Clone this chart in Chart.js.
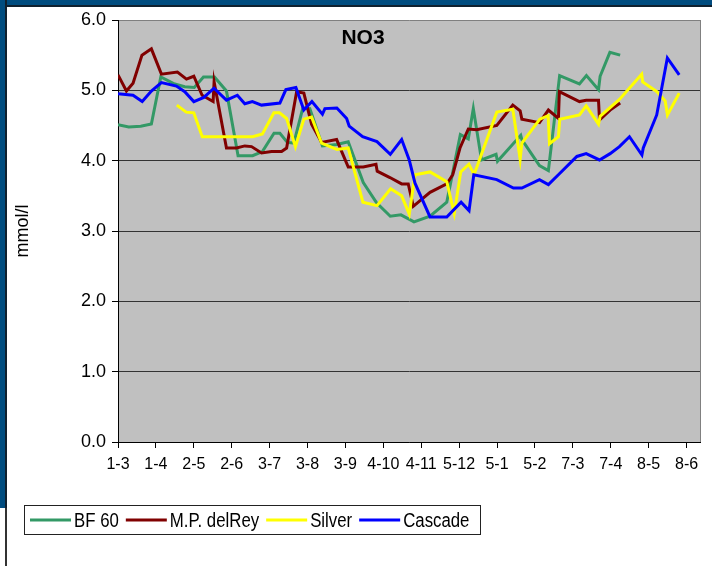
<!DOCTYPE html>
<html>
<head>
<meta charset="utf-8">
<script src="https://cdn.jsdelivr.net/npm/chart.js@4.4.1/dist/chart.umd.min.js"></script>
<style>
    html, body { margin: 0; padding: 0; background: #fff; }
    #wrap { position: relative; width: 712px; height: 566px; overflow: hidden; }
    .frame { position: absolute; background: #004c7f; }
    canvas { position: absolute; left: 0; top: 0; }
</style>
</head>
<body>
<div id="wrap">
    <div class="frame" style="left:0;top:0;width:712px;height:5px;border-bottom:2px solid #10202e"></div>
    <div class="frame" style="left:0;top:0;width:5px;height:508px;border-right:2px solid #10202e"></div>
    <div style="position:absolute;left:5px;top:508px;width:2px;height:58px;background:#333"></div>
    <canvas id="chart" width="712" height="566"></canvas>
</div>
<script>
// tick labels (day-month), one every 31 days starting 1 March
var tickLabels = ["1-3", "1-4", "2-5", "2-6", "3-7", "3-8", "3-9", "4-10", "4-11",
    "5-12", "5-1", "5-2", "7-3", "7-4", "8-5", "8-6"];
var tickStep = 31;
var dayMax = 476;

var seriesNames = ["BF 60", "M.P. delRey", "Silver", "Cascade"];
var seriesColors = ["#339966", "#800000", "#ffff00", "#0000ff"];

// days since 1-3, NO3 in mmol/l
var bf60Days = [0, 8.8, 18.6, 27.3, 35.0, 46.4, 54.6, 62.4, 69.9, 78.9, 88.7, 98.2, 110.1,
    118.1, 127.6, 132.4, 138.5, 143.8, 151.2, 156.9, 167.2, 179.0, 188.3, 200.6, 211.5,
    222.7, 231.4, 242.1, 255.2, 268.9, 280.0, 286.5, 290.6, 297.3, 309.2, 310.4, 329.4,
    330.3, 344.7, 352.0, 361.2, 377.4, 383.1, 393.0, 394.3, 402.3, 410.7];
var bf60Values = [4.51, 4.48, 4.49, 4.52, 5.19, 5.09, 5.05, 5.04, 5.19, 5.19, 4.99, 4.07, 4.07,
    4.13, 4.39, 4.39, 4.26, 4.25, 4.75, 4.74, 4.21, 4.23, 4.27, 3.69, 3.40,
    3.21, 3.23, 3.13, 3.21, 3.41, 4.37, 4.31, 4.74, 4.01, 4.09, 3.99, 4.36,
    4.30, 3.93, 3.86, 5.21, 5.09, 5.21, 5.01, 5.20, 5.54, 5.50];

var delReyDays = [0, 6.9, 12.3, 19.6, 27.3, 35.5, 48.6, 56.0, 62.0, 68.8, 77.8, 78.6, 88.7,
    96.9, 103.7, 109.2, 117.4, 125.6, 133.8, 137.9, 146.1, 152.0, 158.3, 166.5, 178.8,
    188.3, 200.6, 211.0, 212.0, 222.4, 232.0, 237.4, 241.5, 255.2, 268.9, 273.8, 279.7,
    286.5, 293.4, 309.8, 322.9, 328.9, 330.3, 344.7, 352.0, 360.2, 361.0, 377.4, 382.9,
    393.0, 393.8, 402.5, 410.7];
var delReyValues = [5.22, 4.99, 5.10, 5.50, 5.59, 5.23, 5.26, 5.16, 5.20, 4.93, 4.84, 5.12, 4.18,
    4.18, 4.21, 4.20, 4.11, 4.13, 4.13, 4.18, 4.98, 4.96, 4.52, 4.26, 4.30,
    3.91, 3.91, 3.95, 3.85, 3.76, 3.67, 3.67, 3.35, 3.55, 3.67, 3.80, 4.18,
    4.45, 4.44, 4.50, 4.79, 4.71, 4.59, 4.54, 4.72, 4.60, 4.98, 4.84, 4.86,
    4.86, 4.58, 4.72, 4.82];

var silverDays = [48.1, 55.8, 62.0, 68.9, 110.1, 118.1, 127.5, 132.1, 137.9, 145.1, 152.0,
    158.3, 166.5, 179.0, 188.3, 200.3, 211.8, 223.0, 232.0, 238.2, 242.9, 255.2, 268.9,
    275.0, 280.3, 287.0, 291.2, 309.8, 322.9, 328.9, 330.3, 345.0, 351.8, 352.9, 360.2,
    361.3, 377.4, 382.9, 393.0, 394.3, 410.1, 428.3, 429.1, 440.8, 447.5, 449.4, 459.0];
var silverValues = [4.79, 4.69, 4.68, 4.34, 4.34, 4.38, 4.68, 4.68, 4.60, 4.20, 4.59,
    4.62, 4.25, 4.16, 4.18, 3.41, 3.36, 3.60, 3.50, 3.24, 3.80, 3.84, 3.70,
    3.25, 3.84, 3.95, 3.80, 4.69, 4.73, 4.02, 4.25, 4.59, 4.64, 4.24, 4.34,
    4.59, 4.65, 4.78, 4.52, 4.63, 4.87, 5.23, 5.12, 4.98, 4.85, 4.65, 4.96];

var cascadeDays = [0, 12.3, 19.8, 27.3, 35.5, 47.8, 54.6, 62.0, 70.2, 78.5, 88.7, 97.6, 103.7,
    109.9, 117.4, 132.4, 137.3, 145.5, 152.0, 158.6, 167.2, 169.2, 179.0, 187.0, 189.1,
    200.1, 211.8, 222.7, 232.0, 238.2, 242.9, 255.2, 268.9, 280.6, 287.1, 291.0, 309.8,
    323.4, 330.3, 344.7, 352.0, 360.8, 375.3, 382.9, 393.8, 402.5, 410.1, 418.3, 428.5,
    429.6, 440.6, 449.3, 459.0];
var cascadeValues = [4.95, 4.93, 4.84, 4.99, 5.11, 5.06, 4.98, 4.84, 4.90, 5.03, 4.86, 4.93, 4.81,
    4.84, 4.79, 4.82, 5.01, 5.04, 4.72, 4.84, 4.66, 4.74, 4.75, 4.60, 4.49,
    4.34, 4.27, 4.09, 4.30, 4.01, 3.68, 3.20, 3.20, 3.41, 3.29, 3.80, 3.73,
    3.61, 3.61, 3.73, 3.66, 3.81, 4.06, 4.10, 4.01, 4.10, 4.20, 4.34, 4.08,
    4.18, 4.65, 5.46, 5.22];

var seriesDays = [bf60Days, delReyDays, silverDays, cascadeDays];
var seriesValues = [bf60Values, delReyValues, silverValues, cascadeValues];

var plainFont = "'Liberation Sans', Arial, sans-serif";

// gray plot background and gray right border
var plotBackground = {
    id: "plotBackground",
    beforeDraw: function (chart) {
        var a = chart.chartArea, ctx = chart.ctx;
        ctx.save();
        ctx.fillStyle = "#c0c0c0";
        ctx.fillRect(a.left, a.top, a.right - a.left, a.bottom - a.top);
        ctx.restore();
    },
    afterDraw: function (chart) {
        var a = chart.chartArea, ctx = chart.ctx;
        ctx.save();
        ctx.strokeStyle = "#808080";
        ctx.lineWidth = 1;
        ctx.beginPath();
        ctx.moveTo(a.right + 0.5, a.top);
        ctx.lineTo(a.right + 0.5, a.bottom);
        ctx.stroke();
        ctx.restore();
    }
};

// title inside the plot and an Excel style legend box
var extras = {
    id: "extras",
    afterDraw: function (chart) {
        var ctx = chart.ctx;
        ctx.save();
        ctx.fillStyle = "#000";
        ctx.font = "bold 21px " + plainFont;
        ctx.textAlign = "center";
        ctx.textBaseline = "middle";
        ctx.fillText("NO3", 363, 38);

        ctx.strokeStyle = "#222";
        ctx.lineWidth = 1;
        ctx.strokeRect(24.5, 505.5, 456, 29);

        // legend text is a condensed face, so squeeze it a little
        ctx.font = "20px " + plainFont;
        ctx.textAlign = "left";
        var squeeze = 0.84;
        var x = 30, y = 520;
        for (var i = 0; i < seriesNames.length; i++) {
            ctx.strokeStyle = seriesColors[i];
            ctx.lineWidth = 3;
            ctx.beginPath();
            ctx.moveTo(x, y);
            ctx.lineTo(x + 41, y);
            ctx.stroke();
            ctx.save();
            ctx.translate(x + 44, y + 1);
            ctx.scale(squeeze, 1);
            ctx.fillStyle = "#000";
            ctx.fillText(seriesNames[i], 0, 0);
            ctx.restore();
            x += 44 + ctx.measureText(seriesNames[i]).width * squeeze + 7;
        }
        ctx.restore();
    }
};

var datasets = seriesNames.map(function (name, s) {
    return {
        label: name,
        data: seriesDays[s].map(function (d, i) { return { x: d, y: seriesValues[s][i] }; }),
        borderColor: seriesColors[s],
        backgroundColor: seriesColors[s],
        borderWidth: 3,
        pointRadius: 0,
        tension: 0,
        fill: false,
        order: seriesNames.length - s
    };
});

var ctx = document.getElementById("chart").getContext("2d");
var myChart = new Chart(ctx, {
    type: "line",
    data: { datasets: datasets },
    options: {
        responsive: false,
        animation: false,
        devicePixelRatio: 1,
        layout: { padding: { left: 8, top: 20, right: 12, bottom: 0 } },
        plugins: {
            legend: { display: false },
            tooltip: { enabled: false }
        },
        scales: {
            x: {
                type: "linear",
                min: 0,
                max: dayMax,
                afterBuildTicks: function (scale) {
                    scale.ticks = tickLabels.map(function (t, i) { return { value: i * tickStep }; });
                },
                afterFit: function (scale) { scale.height = 124; },
                ticks: {
                    autoSkip: false,
                    maxRotation: 0,
                    padding: 7,
                    color: "#000",
                    font: { family: plainFont, size: 16 },
                    callback: function (value, index) { return tickLabels[index]; }
                },
                grid: { drawOnChartArea: false, drawTicks: true, tickLength: 6, color: "#000" },
                border: { color: "#000", width: 1 }
            },
            y: {
                min: 0,
                max: 6,
                afterFit: function (scale) { scale.width = 110; },
                ticks: {
                    stepSize: 1,
                    padding: 6,
                    color: "#000",
                    font: { family: plainFont, size: 18 },
                    callback: function (value) { return value.toFixed(1); }
                },
                grid: {
                    color: function (c) { return c.tick && c.tick.value === 6 ? "#808080" : "#333"; },
                    tickColor: "#000",
                    tickLength: 6
                },
                border: { color: "#000", width: 1 },
                title: {
                    display: true,
                    text: "mmol/l",
                    color: "#000",
                    font: { family: plainFont, size: 18 },
                    padding: { top: 4, bottom: 4 }
                }
            }
        }
    },
    plugins: [plotBackground, extras]
});
</script>
</body>
</html>
